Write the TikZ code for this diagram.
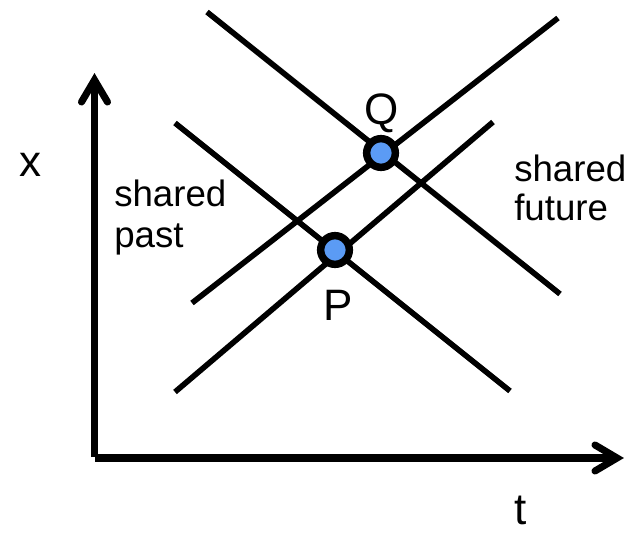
\documentclass[tikz,border=0pt]{standalone}
\usepackage{fontspec}
\setmainfont{Liberation Sans}
\definecolor{dotblue}{RGB}{91,155,245}
\begin{document}
\begin{tikzpicture}[x=0.75pt,y=-0.75pt,
  wl/.style={line width=4.2pt,line cap=butt},
  axis/.style={line width=5.6pt,line cap=butt},
  tip/.style={line width=5.3pt,line cap=round,line join=miter},
  dot/.style={circle,draw=black,fill=dotblue,line width=5.6pt,minimum size=21.5pt,inner sep=0pt},
  big/.style={font=\fontsize{33}{36}\selectfont,inner sep=0pt},
  lab/.style={font=\fontsize{27.5}{31}\selectfont,inner sep=0pt,anchor=base west}]
\useasboundingbox (0,0) rectangle (635,534);
% axes
\coordinate (O) at (94.5,458);
\coordinate (Ytop) at (94.5,80);
\coordinate (Xend) at (617,458);
\draw[axis] (94.5,457) -- (Ytop);
\draw[axis] (95,458) -- (Xend);
\draw[tip] (81.5,102) -- (94.5,80) -- (107.5,102);
\draw[tip] (595,445) -- (617,458) -- (595,471);
% world lines / light cone lines
\coordinate (a1) at (207,12);  \coordinate (a2) at (560,294);
\coordinate (b1) at (192,303); \coordinate (b2) at (558,18);
\coordinate (c1) at (175,123); \coordinate (c2) at (510,391);
\coordinate (d1) at (175,392); \coordinate (d2) at (493,122);
\draw[wl] (a1) -- (a2);
\draw[wl] (b1) -- (b2);
\draw[wl] (c1) -- (c2);
\draw[wl] (d1) -- (d2);
% events
\node[dot] (Q) at (381,153) {};
\node[dot] (P) at (335,250) {};
% labels
\node[big,anchor=base] (Ql) at (382,125) {Q};
\node[big,anchor=base] (Pl) at (338,321) {P};
\node[big,anchor=base] (xl) at (30,177) {x};
\node[big,anchor=base] (tl) at (521,524) {t};
\node[lab] (sp1) at (114,207) {shared};
\node[lab] (sp2) at (114,248) {past};
\node[lab] (sf1) at (514,182) {shared};
\node[lab] (sf2) at (514,221) {future};
\end{tikzpicture}
\end{document}
